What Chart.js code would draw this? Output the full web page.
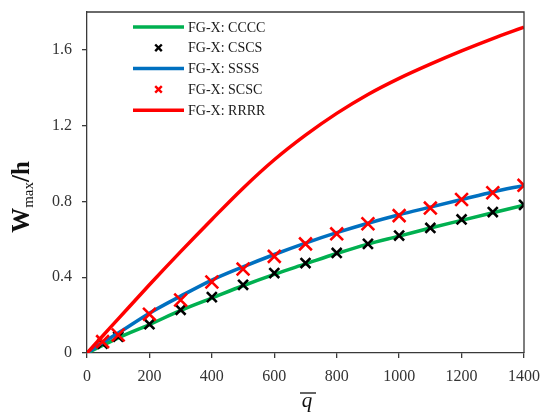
<!DOCTYPE html>
<html>
<head>
<meta charset="utf-8">
<script src="https://cdn.jsdelivr.net/npm/chart.js@4/dist/chart.umd.min.js"></script>
<style>
  html, body { margin: 0; padding: 0; background: #fff; }
  #wrap { width: 541px; height: 414px; position: relative; }
</style>
</head>
<body>
<div id="wrap"><canvas id="chart"></canvas></div>
<script>
// load values q
const qLine = [0, 50, 100, 200, 300, 400, 500, 600, 700, 800, 900, 1000, 1100, 1200, 1300, 1400];
// deflection W_max/h for each boundary condition
const cccc = [0, 0.04, 0.08, 0.15, 0.225, 0.29, 0.355, 0.415, 0.47, 0.525, 0.575, 0.617, 0.66, 0.70, 0.74, 0.78];
const ssss = [0, 0.055, 0.105, 0.21, 0.30, 0.385, 0.455, 0.52, 0.58, 0.635, 0.685, 0.73, 0.77, 0.81, 0.85, 0.885];
const rrrr = [0, 0.09, 0.18, 0.36, 0.535, 0.705, 0.87, 1.02, 1.15, 1.265, 1.365, 1.45, 1.525, 1.595, 1.66, 1.72];
// marker series
const qMarks = [0, 50, 100, 200, 300, 400, 500, 600, 700, 800, 900, 1000, 1100, 1200, 1300, 1400];
const cscs = [0, 0.05, 0.086, 0.152, 0.228, 0.295, 0.36, 0.422, 0.475, 0.528, 0.576, 0.62, 0.66, 0.705, 0.744, 0.782];
const scsc = [0, 0.06, 0.095, 0.205, 0.28, 0.375, 0.443, 0.51, 0.576, 0.629, 0.682, 0.725, 0.765, 0.81, 0.846, 0.885];

const xTicks = [0, 200, 400, 600, 800, 1000, 1200, 1400];
const yTicks = [0, 0.4, 0.8, 1.2, 1.6];

const FONT = "'Liberation Serif', 'Times New Roman', serif";
const AXIS = '#3a3a3a';

function pts(xs, ys) {
    return xs.map((x, i) => ({ x: x, y: ys[i] }));
}

function lineSet(label, xs, ys, color, order) {
    return {
        label: label, data: pts(xs, ys), kind: 'line',
        borderColor: color, backgroundColor: color,
        borderWidth: 3.5, pointRadius: 0,
        cubicInterpolationMode: 'monotone', order: order
    };
}

function markSet(label, xs, ys, color, r, order) {
    return {
        label: label, data: pts(xs, ys), kind: 'mark',
        showLine: false, pointStyle: 'crossRot', pointRadius: r,
        pointBorderWidth: 2.6, borderColor: color, backgroundColor: color,
        order: order
    };
}

// legend drawn inside the plot area, top left
const innerLegend = {
    id: 'innerLegend',
    afterDraw(chart) {
        const ctx = chart.ctx;
        const x0 = 133, x1 = 184, tx = 188;
        ctx.save();
        chart.data.datasets.forEach((ds, i) => {
            const y = 27 + i * 20.8;
            ctx.strokeStyle = ds.borderColor;
            if (ds.kind === 'line') {
                ctx.lineWidth = 3.5;
                ctx.beginPath();
                ctx.moveTo(x0, y);
                ctx.lineTo(x1, y);
                ctx.stroke();
            } else {
                const c = (x0 + x1) / 2, h = 3.3;
                ctx.lineWidth = 2.4;
                ctx.beginPath();
                ctx.moveTo(c - h, y - h); ctx.lineTo(c + h, y + h);
                ctx.moveTo(c + h, y - h); ctx.lineTo(c - h, y + h);
                ctx.stroke();
            }
            ctx.fillStyle = '#1a1a1a';
            ctx.font = '14px ' + FONT;
            ctx.textBaseline = 'middle';
            ctx.textAlign = 'left';
            ctx.fillText(ds.label, tx, y + 1);
        });
        ctx.restore();
    }
};

// frame on the top and right sides plus the axis titles
const frameTitles = {
    id: 'frameTitles',
    afterDraw(chart) {
        const ctx = chart.ctx;
        const a = chart.chartArea;
        ctx.save();
        ctx.strokeStyle = AXIS;
        ctx.lineWidth = 1.3;
        ctx.beginPath();
        ctx.moveTo(a.left, a.top);
        ctx.lineTo(a.right, a.top);
        ctx.lineTo(a.right, a.bottom);
        ctx.stroke();

        // y title: W_max/h
        ctx.fillStyle = '#111';
        ctx.translate(21, 197);
        ctx.rotate(-Math.PI / 2);
        const big = 'bold 25px ' + FONT, small = '15px ' + FONT;
        ctx.font = big; const wW = ctx.measureText('W').width;
        const wH = ctx.measureText('/h').width;
        ctx.font = small; const wM = ctx.measureText('max').width;
        let x = -(wW + wM + wH) / 2;
        ctx.textBaseline = 'alphabetic';
        ctx.textAlign = 'left';
        ctx.font = big; ctx.fillText('W', x, 8); x += wW;
        ctx.font = small; ctx.fillText('max', x, 12); x += wM;
        ctx.font = big; ctx.fillText('/h', x, 8);
        ctx.setTransform(1, 0, 0, 1, 0, 0);

        // x title: q with an overbar
        ctx.font = 'italic 21px ' + FONT;
        ctx.textAlign = 'center';
        ctx.fillText('q', 307, 407);
        ctx.lineWidth = 1.3;
        ctx.strokeStyle = '#111';
        ctx.beginPath();
        ctx.moveTo(300, 393);
        ctx.lineTo(316, 393);
        ctx.stroke();
        ctx.restore();
    }
};

const datasets = [
    lineSet('FG-X: CCCC', qLine, cccc, '#00b050', 5),
    markSet('FG-X: CSCS', qMarks, cscs, '#000000', 7, 4),
    lineSet('FG-X: SSSS', qLine, ssss, '#0070c0', 3),
    markSet('FG-X: SCSC', qMarks, scsc, '#ff0000', 9, 2),
    lineSet('FG-X: RRRR', qLine, rrrr, '#ff0000', 1)
];

new Chart(document.getElementById('chart'), {
    type: 'line',
    data: { datasets: datasets },
    options: {
        responsive: true,
        maintainAspectRatio: false,
        animation: false,
        layout: { padding: { left: 0, top: 12, right: 17, bottom: 0 } },
        plugins: { legend: { display: false }, tooltip: { enabled: false } },
        scales: {
            x: {
                type: 'linear', min: 0, max: 1400,
                afterBuildTicks: s => { s.ticks = xTicks.map(v => ({ value: v })); },
                afterFit: s => { s.height = 61; s.paddingLeft = 0; s.paddingRight = 0; },
                ticks: {
                    color: '#333', padding: 9,
                    font: { family: FONT, size: 16 },
                    callback: v => String(v)
                },
                grid: { drawOnChartArea: false, drawTicks: true, tickLength: 5, color: AXIS, lineWidth: 1.3 },
                border: { color: AXIS, width: 1.3 }
            },
            y: {
                type: 'linear', min: 0, max: 1.8,
                afterBuildTicks: s => { s.ticks = yTicks.map(v => ({ value: v })); },
                afterFit: s => { s.width = 87; s.paddingTop = 0; s.paddingBottom = 0; },
                ticks: {
                    color: '#333', padding: 10,
                    font: { family: FONT, size: 16 },
                    callback: v => String(+v.toFixed(1))
                },
                grid: { drawOnChartArea: false, drawTicks: true, tickLength: 5, color: AXIS, lineWidth: 1.3 },
                border: { color: AXIS, width: 1.3 }
            }
        }
    },
    plugins: [innerLegend, frameTitles]
});
</script>
</body>
</html>
